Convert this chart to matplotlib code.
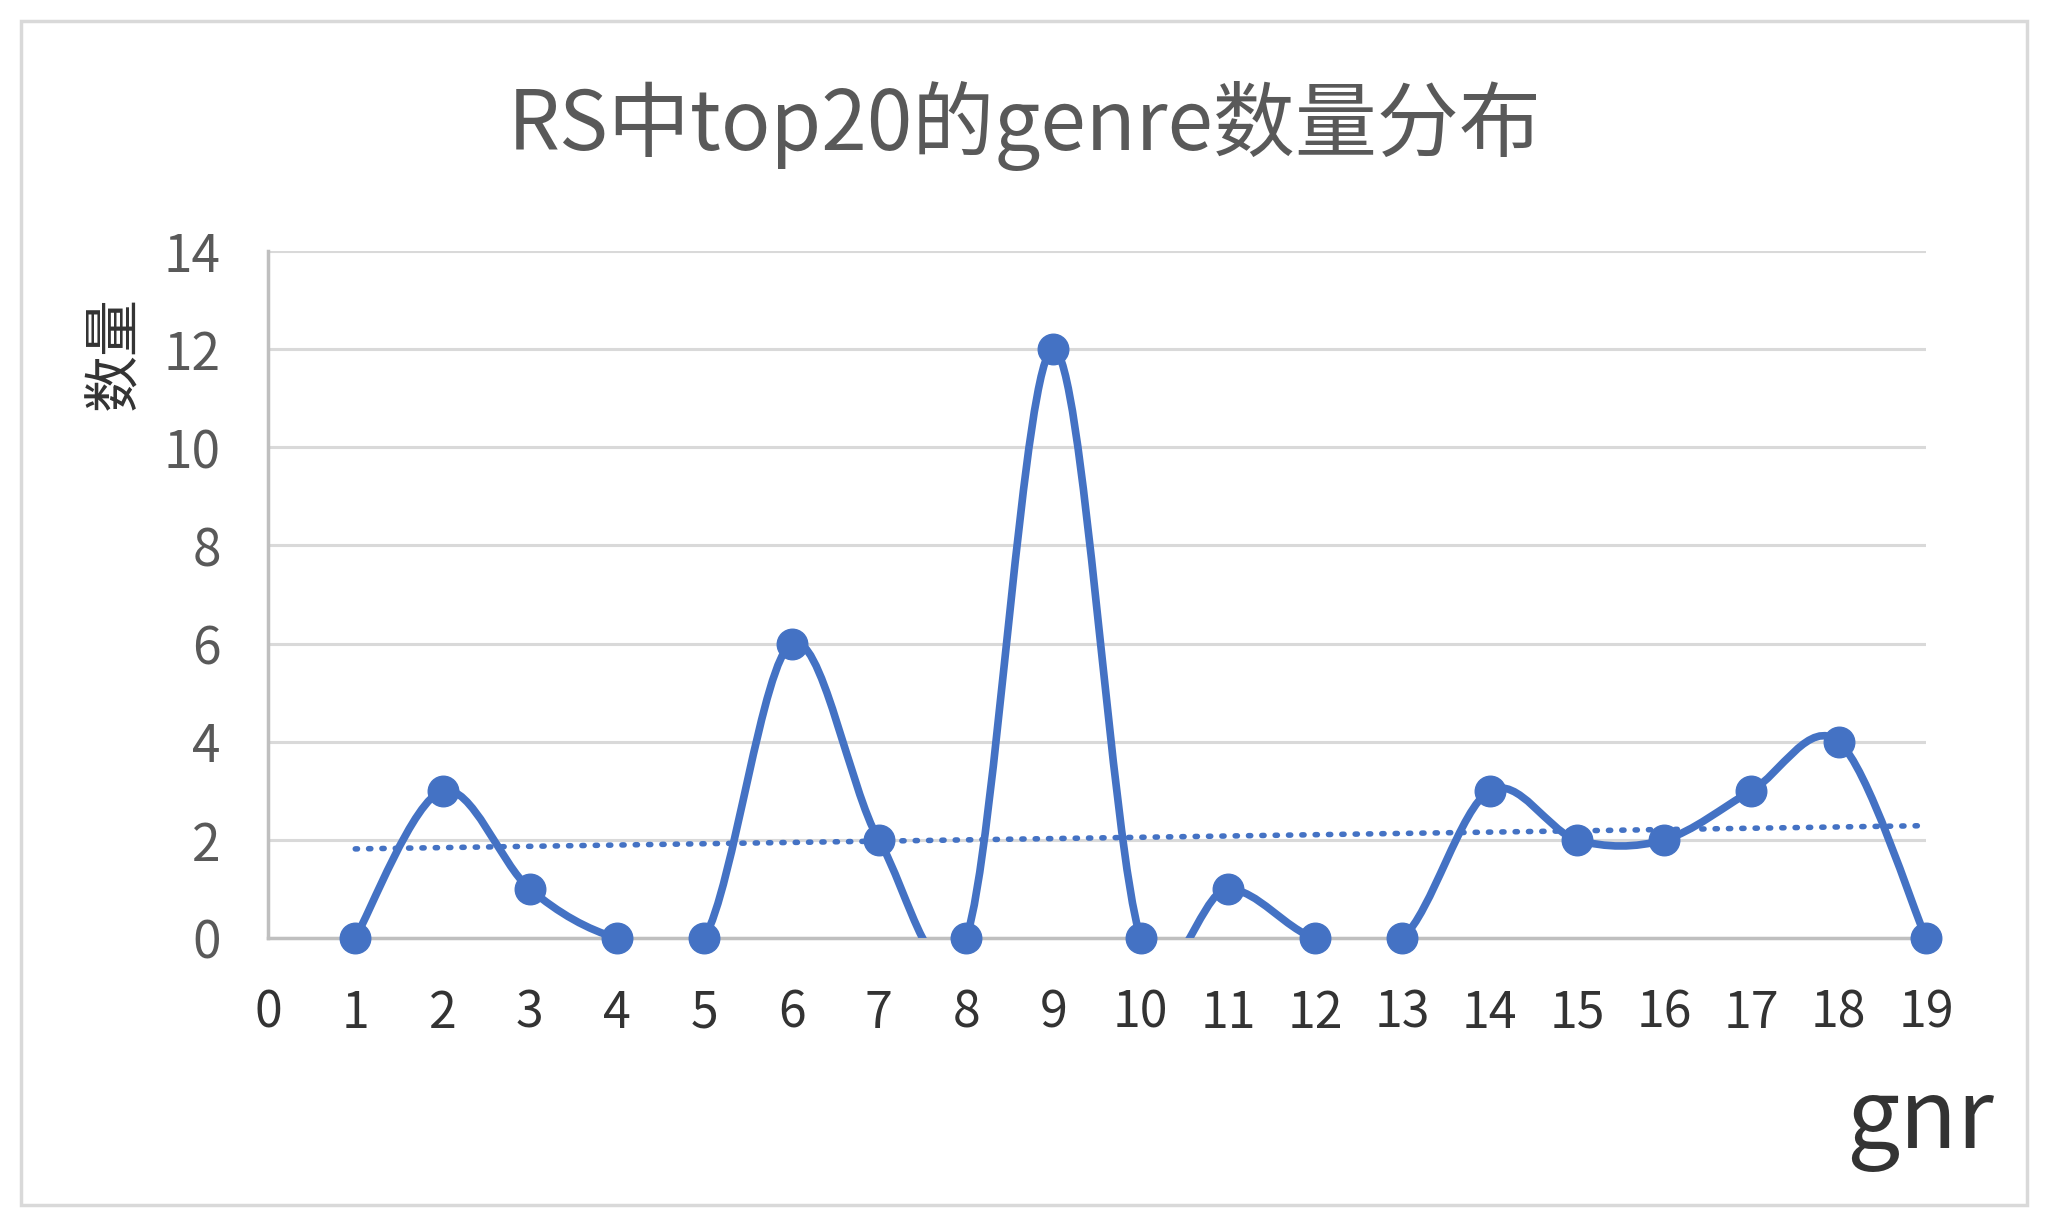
import matplotlib
import matplotlib.pyplot as plt
from matplotlib.path import Path
from matplotlib.patches import PathPatch, Rectangle
import numpy as np

matplotlib.use("Agg")

plt.rcParams["font.family"] = ["Noto Sans CJK SC", "DejaVu Sans"]

# data
genre = [1, 2, 3, 4, 5, 6, 7, 8, 9, 10, 11, 12, 13, 14, 15, 16, 17, 18, 19]
count = [0, 3, 1, 0, 0, 6, 2, 0, 12, 0, 1, 0, 0, 3, 2, 2, 3, 4, 0]
x_ticks = list(range(0, 20))
y_ticks = [0, 2, 4, 6, 8, 10, 12, 14]
title = "RS中top20的genre数量分布"

BLUE = "#4472C4"
GRID = "#D9D9D9"
AXIS = "#BFBFBF"
TXT = "#595959"
DARK = "#333333"


def smooth_path(xs, ys):
    # excel-like smoothed line: cubic bezier, tension 1/6
    pts = np.column_stack([xs, ys]).astype(float)
    n = len(pts)
    verts = [pts[0]]
    codes = [Path.MOVETO]
    for i in range(n - 1):
        p_prev = pts[i - 1] if i > 0 else pts[i]
        p_next2 = pts[i + 2] if i + 2 < n else pts[i + 1]
        c1 = pts[i] + (pts[i + 1] - p_prev) / 6
        c2 = pts[i + 1] - (p_next2 - pts[i]) / 6
        verts += [c1, c2, pts[i + 1]]
        codes += [Path.CURVE4] * 3
    return Path(verts, codes)


fig = plt.figure(figsize=(20.48, 12.28), dpi=100)
fig.patches.append(Rectangle((21 / 2048, 1 - 1205 / 1228), (2027 - 21) / 2048, (1205 - 21) / 1228,
                             transform=fig.transFigure, fill=False, edgecolor=GRID, linewidth=2.5))

ax = fig.add_axes([268 / 2048, 1 - 938 / 1228, (1926 - 268) / 2048, (938 - 251) / 1228])
ax.set_xlim(0, 19)
ax.set_ylim(0, 14)

ax.set_yticks(y_ticks)
ax.set_xticks(x_ticks)
ax.yaxis.grid(True, color=GRID, linewidth=2.2)
ax.set_axisbelow(True)
for s in ["top", "right"]:
    ax.spines[s].set_visible(False)
for s in ["left", "bottom"]:
    ax.spines[s].set_color(AXIS)
    ax.spines[s].set_linewidth(2.5)
ax.tick_params(axis="both", length=0)
ax.tick_params(axis="y", labelsize=37, labelcolor=TXT, pad=34)
ax.tick_params(axis="x", labelsize=36, labelcolor=DARK, pad=36)

# smoothed series, clipped at the axes bottom
patch = PathPatch(smooth_path(genre, count), facecolor="none", edgecolor=BLUE,
                  linewidth=5.5, capstyle="round", joinstyle="round", zorder=3)
ax.add_patch(patch)
ax.plot(genre, count, linestyle="none", marker="o", markersize=22, color=BLUE,
        clip_on=False, zorder=4)

# linear trendline
k, b = np.polyfit(genre, count, 1)
tx = np.array([genre[0], genre[-1]])
ax.plot(tx, k * tx + b, color=BLUE, linewidth=4, linestyle=(0, (0.4, 2.0)),
        dash_capstyle="round", zorder=2)

fig.text(1025 / 2048, 1 - 126 / 1228, title, fontsize=59, color=TXT, ha="center", va="center")
fig.text(115 / 2048, 1 - 353 / 1228, "数量", fontsize=41, color=DARK, rotation=90,
         ha="center", va="center")
fig.text(1994 / 2048, 1 - 1148 / 1228, "gnr", fontsize=68, color=DARK, ha="right", va="baseline")

fig.savefig("out.png", dpi=100)
